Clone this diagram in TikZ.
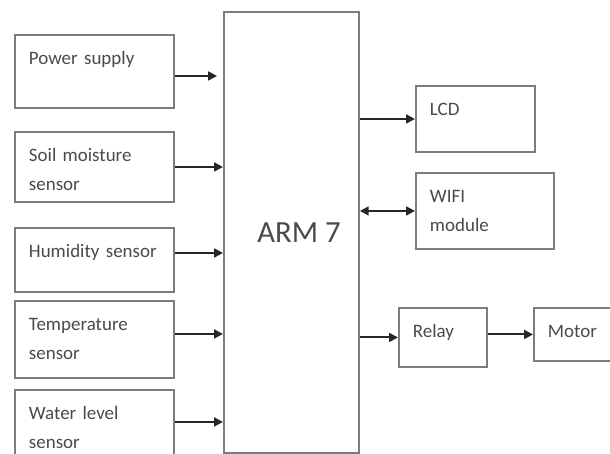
\documentclass[tikz,border=0pt]{standalone}
\usepackage{fontspec}
\setmainfont{Carlito}
\usetikzlibrary{arrows.meta}
\definecolor{boxgray}{HTML}{7C7C7C}
\definecolor{txtgray}{HTML}{4A4A4A}
\definecolor{arrgray}{HTML}{262626}
\tikzset{
  blk/.style={draw=boxgray, line width=1.1pt, anchor=north west, align=left, text=txtgray,
    font=\fontsize{10.8}{16}\selectfont, inner xsep=0.28cm, inner ysep=0.18cm, text height=0.42cm},
  tip/.style={Triangle[length=5pt, width=5pt]},
  arr/.style={draw=arrgray, line width=1.1pt, -{Triangle[length=5pt, width=5pt]}},
}
\begin{document}
\begin{tikzpicture}[x=0.02cm, y=-0.02cm]
\clip (0,0) rectangle (610,454);
% inputs on the left
\node[blk, minimum width=3.18cm, text width=2.62cm, text depth=0.68cm] (pwr) at (14,34) {Power supply};
\node[blk, minimum width=3.18cm, text width=2.62cm, text depth=0.62cm] (soil) at (14,131) {Soil moisture\\sensor};
\node[blk, minimum width=3.18cm, text width=2.62cm, text depth=0.50cm] (hum) at (14,227) {Humidity sensor};
\node[blk, minimum width=3.18cm, text width=2.62cm, text depth=0.76cm] (temp) at (14,300) {Temperature\\sensor};
\node[blk, minimum width=3.18cm, text width=2.62cm, text depth=0.82cm] (wat) at (14,389) {Water level\\sensor};
% controller
\node[draw=boxgray, line width=1.1pt, anchor=north west, minimum width=2.7cm, minimum height=8.82cm,
  text=txtgray, font=\fontsize{17.5}{20}\selectfont] (arm) at (223,11) {\hspace*{0.3cm}ARM 7};
% outputs on the right
\node[blk, minimum width=2.38cm, text width=1.82cm, text depth=0.54cm] (lcd) at (415,85) {LCD};
\node[blk, minimum width=2.76cm, text width=2.2cm, text depth=0.74cm] (wifi) at (415,172) {WIFI\\module};
\node[blk, minimum width=1.76cm, text width=1.2cm, text depth=0.40cm] (relay) at (398,307) {Relay};
\node[blk, minimum width=1.70cm, text width=1.14cm, text depth=0.28cm] (motor) at (533,307) {Motor};
% arrows
\coordinate (p) at ([yshift=-0.09cm]pwr.east);
\draw[arr, shorten >=0.12cm] (p) -- (p -| arm.west);
\foreach \n/\s in {soil/0, hum/0.14, temp/0.11, wat/0.16} {
  \coordinate (p) at ([yshift=\s cm]\n.east);
  \draw[arr] (p) -- (p -| arm.west);
}
\draw[arr] (arm.east |- lcd.west) -- (lcd.west);
\draw[arr, {Triangle[length=5pt, width=5pt]}-{Triangle[length=5pt, width=5pt]}] (arm.east |- wifi.west) -- (wifi.west);
\draw[arr] (arm.east |- relay.west) -- (relay.west);
\draw[arr] (relay.east |- motor.west) -- (motor.west);
\end{tikzpicture}
\end{document}
